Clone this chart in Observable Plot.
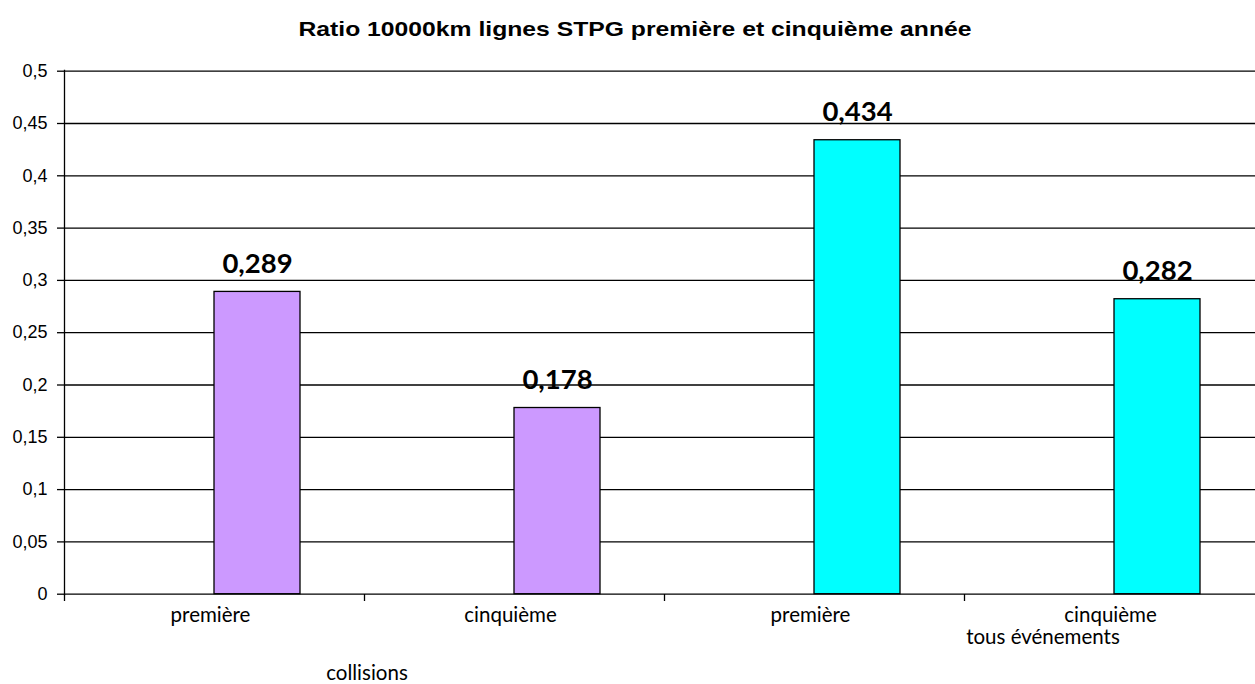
<!DOCTYPE html>
<html><head><meta charset="utf-8">
<script src="https://cdn.jsdelivr.net/npm/d3@7"></script>
<script src="https://cdn.jsdelivr.net/npm/@observablehq/plot@0.6"></script>
<style>
body{margin:0;overflow:hidden;background:#fff}
#wrap{position:relative;width:1255px;height:684px}
.t{position:absolute;white-space:nowrap;color:#000;line-height:1}
svg{overflow:hidden}
</style>
</head><body><div id="wrap"></div>
<script>
const titleText = "Ratio 10000km lignes STPG première et cinquième année";
const keys = ["c1", "c2", "c3", "c4"];
const categoryLabels = ["première", "cinquième", "première", "cinquième"];
const groups = ["collisions", "collisions", "tous événements", "tous événements"];
const values = [0.289, 0.178, 0.434, 0.282];
const valueLabels = ["0,289", "0,178", "0,434", "0,282"];
const yTicks = [0, 0.05, 0.1, 0.15, 0.2, 0.25, 0.3, 0.35, 0.4, 0.45, 0.5];
const yTickLabels = ["0", "0,05", "0,1", "0,15", "0,2", "0,25", "0,3", "0,35", "0,4", "0,45", "0,5"];
const groupNames = ["collisions", "tous événements"];
const groupColors = ["#CC99FF", "#00FFFF"];

const data = keys.map((k, i) => ({key: k, label: categoryLabels[i], group: groups[i], value: values[i], text: valueLabels[i]}));
const labelOf = Object.fromEntries(keys.map((k, i) => [k, categoryLabels[i]]));
const yLabelOf = new Map(yTicks.map((t, i) => [t, yTickLabels[i]]));

const chart = Plot.plot({
  width: 1255,
  height: 684,
  marginLeft: 64,
  marginRight: 0,
  marginTop: 70,
  marginBottom: 90,
  style: {background: "#fff", overflow: "hidden"},
  x: {domain: keys, range: [64, 1264], padding: 0, axis: null},
  y: {domain: [0, 0.5], range: [593.7, 70.7], axis: null},
  color: {domain: groupNames, range: groupColors},
  marks: [
    Plot.gridY(yTicks, {stroke: "#000", strokeOpacity: 1, strokeWidth: 1.3}),
    Plot.barY(data, {x: "key", y: "value", fill: "group", stroke: "#000", strokeWidth: 1.3, insetLeft: 150, insetRight: 64}),
    Plot.text(data, {x: "key", y: "value", text: "text", dx: 43, dy: -19, lineAnchor: "bottom",
      fontFamily: "Lato", fontWeight: "bold", fontSize: 27.5, fill: "#000"}),
    Plot.axisY({ticks: yTicks, tickSize: 7, tickPadding: 10, tickFormat: d => yLabelOf.get(d),
      fontFamily: "Liberation Sans", fontSize: 18, stroke: "#000", strokeWidth: 1.3, strokeOpacity: 1, label: null}),
    Plot.frame({anchor: "left", stroke: "#000", strokeWidth: 1.3}),
    Plot.axisX({tickSize: 7, dx: -150, tickFormat: () => "", stroke: "#000", strokeWidth: 1.3, strokeOpacity: 1, label: null}),
    Plot.axisX({tickSize: 0, tickPadding: 13, dx: -4, tickFormat: d => labelOf[d], fontFamily: "Lato", fontSize: 20.5, fill: "#000", label: null})
  ]
});
const wrap = document.getElementById("wrap");
wrap.appendChild(chart);

function addText(txt, x, y, css, sx) {
  const d = document.createElement("div");
  d.className = "t";
  d.textContent = txt;
  d.style.left = x + "px";
  d.style.top = y + "px";
  d.style.transform = "translate(-50%,-50%) scaleX(" + (sx || 1) + ")";
  Object.assign(d.style, css);
  wrap.appendChild(d);
}
addText(titleText, 634.5, 28, {fontFamily: "Liberation Sans", fontWeight: "bold", fontSize: "21px"}, 1.177);
addText(groupNames[0], 367, 672, {fontFamily: "Lato", fontSize: "20.5px"});
addText(groupNames[1], 1043, 636, {fontFamily: "Lato", fontSize: "20.5px"});
</script>
</body></html>
